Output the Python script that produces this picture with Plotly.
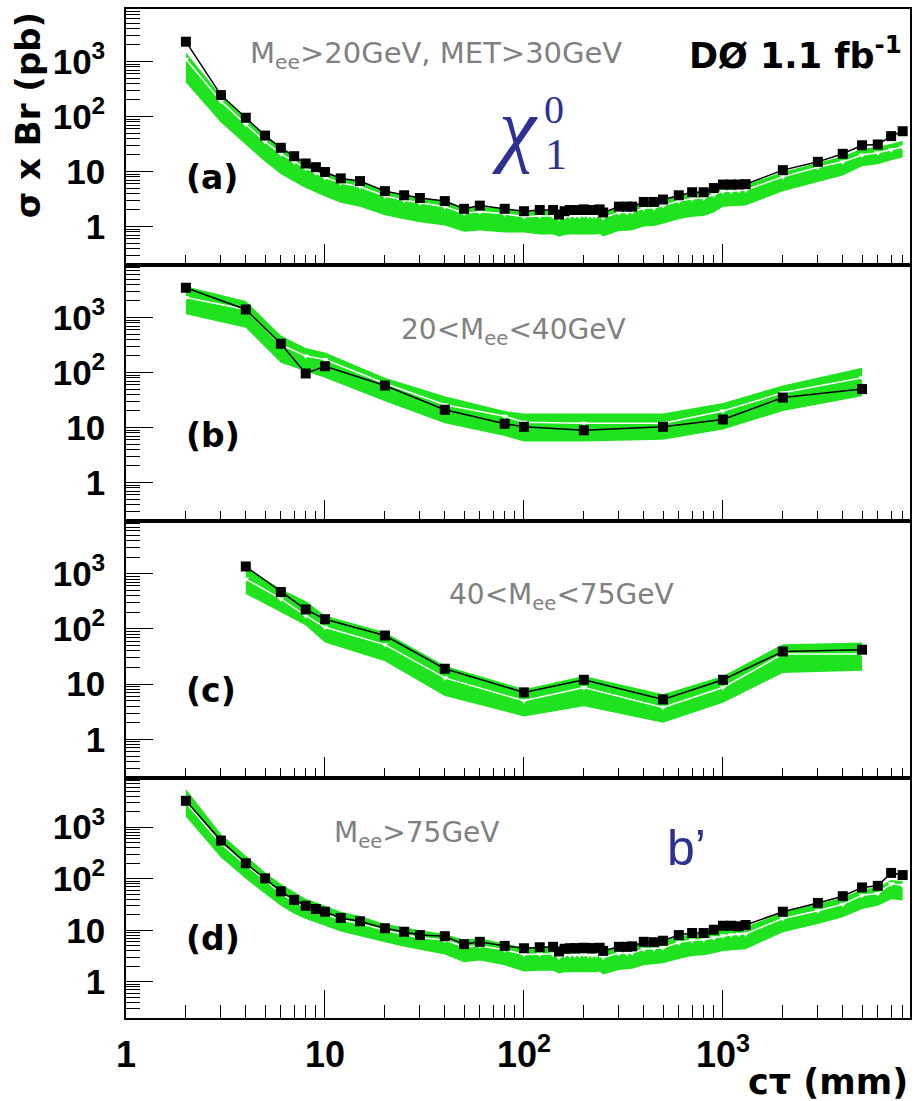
import plotly.graph_objects as go
from plotly.subplots import make_subplots

# c*tau grid (mm) shared by panels (a) and (d)
CT_AD = [2, 3, 4, 5, 6, 7, 8, 9, 10, 12, 15, 20, 25, 30, 40, 50, 60, 80,
         100, 120, 140, 150, 160, 170, 180, 190, 200, 210, 220, 230, 240, 250,
         300, 330, 350, 400, 450, 500, 600, 700, 800, 900, 1000, 1100, 1200, 1300,
         2000, 3000, 4000, 5000, 6000, 7000, 8000]

# (a) Mee>20GeV, MET>30GeV
OBS_A = [2290, 245, 95, 45, 27, 19, 14, 12, 9.8, 7.5, 6.7, 4.4, 3.7, 3.3, 2.9, 2.1, 2.4, 2.1,
         1.9, 2.0, 2.0, 1.65, 1.9, 2.0, 2.0, 2.0, 2.05, 2.0, 2.0, 2.0, 2.05, 1.8,
         2.3, 2.3, 2.3, 2.8, 2.8, 3.1, 3.7, 4.2, 4.2, 5.0, 5.8, 5.8, 5.8, 5.9,
         10.6, 15, 21, 30, 31, 44, 54]
EXP_A = [1100, 190, 72, 35, 21, 15, 11.5, 9.5, 7.8, 6.2, 5.3, 3.6, 3.0, 2.7, 2.3, 1.75, 1.85, 1.7,
         1.5, 1.55, 1.55, 1.4, 1.5, 1.55, 1.55, 1.55, 1.6, 1.55, 1.55, 1.55, 1.6, 1.45,
         1.8, 1.8, 1.85, 2.15, 2.2, 2.4, 2.9, 3.2, 3.3, 3.8, 4.4, 4.4, 4.5, 4.6,
         8.0, 12, 15, 20, 22, 25, 28]
HI_A = [1450, 240, 90, 44, 26, 19, 14.5, 12, 9.8, 7.8, 6.6, 4.5, 3.8, 3.4, 2.9, 2.2, 2.3, 2.1,
        1.85, 1.95, 1.95, 1.75, 1.9, 1.95, 1.95, 1.95, 2.0, 1.95, 1.95, 1.95, 2.0, 1.8,
        2.25, 2.25, 2.3, 2.7, 2.75, 3.0, 3.6, 4.0, 4.1, 4.75, 5.4, 5.5, 5.6, 5.75,
        9.8, 14.5, 19, 26, 28, 32, 36]
LO_A = [415, 78, 31, 15, 9, 6.5, 5.0, 4.1, 3.5, 2.7, 2.3, 1.6, 1.35, 1.2, 1.05, 0.8, 0.85, 0.78,
        0.78, 0.72, 0.72, 0.65, 0.7, 0.72, 0.72, 0.72, 0.74, 0.72, 0.72, 0.72, 0.74, 0.66,
        0.83, 0.84, 0.86, 1.0, 1.02, 1.12, 1.35, 1.5, 1.55, 1.8, 2.3, 2.3, 2.35, 2.4,
        4.4, 6.5, 8.5, 12.5, 13.5, 16, 18]

# (b) 20<Mee<40GeV
CT_B = [2, 4, 6, 8, 10, 20, 40, 80, 100, 200, 500, 1000, 2000, 5000]
OBS_B = [3470, 1400, 333, 96, 130, 58, 21, 11.7, 10.3, 8.9, 10.3, 14, 35, 50]
EXP_B = [2300, 1400, 320, 200, 172, 63, 26, 16, 12.5, 12, 12, 20, 43, 80]
HI_B = [3700, 2000, 470, 280, 230, 80, 37, 20, 18, 18, 18, 28, 58, 122]
LO_B = [1150, 650, 150, 105, 80, 30, 12, 7, 5.6, 5.6, 6, 9.2, 20, 37]

# (c) 40<Mee<75GeV
CT_C = [4, 6, 8, 10, 20, 40, 100, 200, 500, 1000, 2000, 5000]
OBS_C = [1350, 465, 225, 150, 76, 19, 7.1, 12, 5.3, 12, 39, 42]
EXP_C = [800, 350, 175, 107, 52, 13, 5, 8.7, 3.8, 8.7, 35, 35]
HI_C = [1320, 530, 320, 175, 87, 21.5, 8.1, 14, 6.6, 14, 53, 57]
LO_C = [430, 200, 115, 57, 26, 6.1, 2.6, 4.0, 2.0, 4.6, 16, 17.5]

# (d) Mee>75GeV
OBS_D = [3250, 550, 200, 102, 57, 39, 30, 26, 23, 17.4, 15, 11, 9.4, 8.1, 7.7, 5.4, 6.0, 5.0,
         4.5, 4.7, 4.8, 3.9, 4.4, 4.5, 4.5, 4.5, 4.6, 4.5, 4.5, 4.5, 4.6, 4.0,
         4.8, 4.8, 4.9, 6.0, 5.9, 6.3, 8.1, 8.9, 8.9, 10.3, 12.3, 12.3, 12.0, 12.7,
         23, 34, 46, 68, 73, 130, 118]
EXP_D = [3000, 480, 185, 95, 52, 36, 28, 24, 21, 16, 13.5, 10, 8.3, 7.2, 6.5, 4.8, 5.0, 4.2,
         3.4, 3.5, 3.5, 3.0, 3.3, 3.3, 3.3, 3.3, 3.4, 3.3, 3.3, 3.3, 3.4, 3.0,
         3.6, 3.6, 3.7, 4.3, 4.4, 4.6, 5.8, 6.4, 6.6, 7.2, 7.9, 8.2, 8.4, 8.6,
         17, 24, 32, 48, 52, 80, 75]
HI_D = [5500, 740, 280, 133, 79, 56, 41, 35, 30, 23, 19, 13.3, 11.5, 10, 8.5, 6.6, 7.0, 5.6,
        4.6, 4.8, 4.8, 4.2, 4.5, 4.5, 4.5, 4.5, 4.6, 4.5, 4.5, 4.5, 4.6, 4.2,
        5.0, 5.0, 5.1, 5.8, 5.8, 6.1, 7.6, 8.4, 8.7, 9.5, 10.6, 11, 11.3, 11.6,
        22.4, 32.5, 43, 63, 68, 95, 90]
LO_D = [1600, 260, 100, 51, 30, 21, 16.6, 14, 12.3, 9.5, 7.8, 5.9, 4.8, 4.2, 3.4, 2.4, 2.6, 2.1,
        1.6, 1.65, 1.65, 1.45, 1.55, 1.55, 1.55, 1.55, 1.6, 1.55, 1.55, 1.55, 1.6, 1.4,
        1.7, 1.75, 1.8, 2.1, 2.2, 2.3, 2.8, 3.2, 3.3, 3.6, 4.0, 4.1, 4.2, 4.3,
        9.2, 13.3, 18, 26, 30, 40, 38]

X_TICKS = [1, 10, 100, 1000]
X_TICKTEXT = ["1", "10", "10<sup>2</sup>", "10<sup>3</sup>"]
Y_TICKS = [1, 10, 100, 1000]
Y_TICKTEXT = ["1", "10", "10<sup>2</sup>", "10<sup>3</sup>"]

GREEN = "#1fe31f"
BLUE = "#2e3192"
GREY = "#808080"
FONT = "Liberation Sans"
WIDE = "DejaVu Sans"

W, H = 915, 1101
ML, MR, MT, MB = 126, 3, 9, 83
PW = W - ML - MR
PH = H - MT - MB


def px(x):
    return (x - ML) / PW


def py(y):
    return (H - MB - y) / PH


panels = [
    (CT_AD, OBS_A, EXP_A, HI_A, LO_A),
    (CT_B, OBS_B, EXP_B, HI_B, LO_B),
    (CT_C, OBS_C, EXP_C, HI_C, LO_C),
    (CT_AD, OBS_D, EXP_D, HI_D, LO_D),
]

fig = make_subplots(rows=4, cols=1, shared_xaxes=False, vertical_spacing=0,
                    row_heights=[256, 256, 257, 240])

for i, (ct, obs, exp, hi, lo) in enumerate(panels, start=1):
    # expected +-1 sigma band
    fig.add_trace(go.Scatter(
        x=list(ct) + list(ct)[::-1], y=list(hi) + list(lo)[::-1],
        fill="toself", fillcolor=GREEN, mode="lines",
        line=dict(width=0, color=GREEN), hoverinfo="skip", showlegend=False),
        row=i, col=1)
    # expected limit
    fig.add_trace(go.Scatter(
        x=ct, y=exp, mode="lines+markers",
        line=dict(color="white", width=1.5),
        marker=dict(symbol="triangle-down", size=6, color="white"),
        showlegend=False), row=i, col=1)
    # observed limit
    fig.add_trace(go.Scatter(
        x=ct, y=obs, mode="lines+markers",
        line=dict(color="black", width=1.5),
        marker=dict(symbol="square", size=10, color="black"),
        showlegend=False), row=i, col=1)

x_minor = [m * 10 ** e for e in range(0, 4) for m in range(2, 10)]
y_minor = [m * 10 ** e for e in range(-1, 4) for m in range(2, 10)]

for i in range(1, 5):
    last = (i == 4)
    fig.update_xaxes(
        type="log", range=[0, 3.94],
        showline=True, linecolor="black", linewidth=1.5, mirror=True,
        ticks="inside", ticklen=28 if last else 21, tickwidth=1.3, tickcolor="black",
        tickmode="array", tickvals=X_TICKS, ticktext=X_TICKTEXT,
        showticklabels=last, ticklabelstandoff=4,
        tickfont=dict(family=FONT, size=36, color="black", weight="bold"),
        minor=dict(ticks="inside", ticklen=13 if last else 10, tickwidth=1.3,
                   tickcolor="black", tickmode="array", tickvals=x_minor,
                   showgrid=False),
        showgrid=False, zeroline=False, row=i, col=1)
    fig.update_yaxes(
        type="log", range=[-0.699, 3.954],
        showline=True, linecolor="black", linewidth=1.5, mirror=True,
        ticks="inside", ticklen=27, tickwidth=1.3, tickcolor="black",
        tickmode="array", tickvals=Y_TICKS, ticktext=Y_TICKTEXT,
        ticklabelstandoff=12,
        tickfont=dict(family=FONT, size=35, color="black", weight="bold"),
        minor=dict(ticks="inside", ticklen=14, tickwidth=1.2,
                   tickcolor="black", tickmode="array", tickvals=y_minor,
                   showgrid=False),
        showgrid=False, zeroline=False, row=i, col=1)

annotations = []


def ann(text, x, y, size, color="black", weight="normal", family=WIDE,
        xanchor="left", yanchor="middle", style="normal", angle=0):
    annotations.append(dict(
        text=text, x=px(x), y=py(y), xref="paper", yref="paper",
        xanchor=xanchor, yanchor=yanchor, showarrow=False, textangle=angle,
        font=dict(family=family, size=size, color=color, weight=weight, style=style)))


# panel tags
ann("(a)", 184, 178, 33, weight="bold")
ann("(b)", 184, 435, 33, weight="bold")
ann("(c)", 184, 690, 33, weight="bold")
ann("(d)", 184, 938, 33, weight="bold")

# selection labels
ann("M<sub>ee</sub>>20GeV, MET>30GeV", 248, 55, 29, color=GREY)
ann("20<M<sub>ee</sub><40GeV", 400, 331, 28, color=GREY)
ann("40<M<sub>ee</sub><75GeV", 448, 596, 28, color=GREY)
ann("M<sub>ee</sub>>75GeV", 333, 834, 28, color=GREY)

# experiment label
ann("DØ 1.1 fb<sup>-1</sup>", 906, 53, 35, weight="bold", xanchor="right")

# particle labels
ann("χ", 516, 127, 84, color=BLUE, family="Liberation Serif", style="italic",
    xanchor="center")
ann("1", 544, 154, 44, color=BLUE, family="Liberation Serif")
ann("0", 543, 110, 40, color=BLUE, family="Liberation Serif")
ann("b’", 666, 848, 50, color=BLUE, family=FONT)

# axis titles
ann("σ x Br (pb)", 28, 115, 34, weight="bold", xanchor="center", angle=-90)
ann("cτ (mm)", 912, 1082, 35, weight="bold", xanchor="right")

fig.update_layout(
    width=W, height=H,
    margin=dict(l=ML, r=MR, t=MT, b=MB),
    paper_bgcolor="white", plot_bgcolor="white",
    annotations=annotations,
    showlegend=False,
)

fig.write_html("out.html")
